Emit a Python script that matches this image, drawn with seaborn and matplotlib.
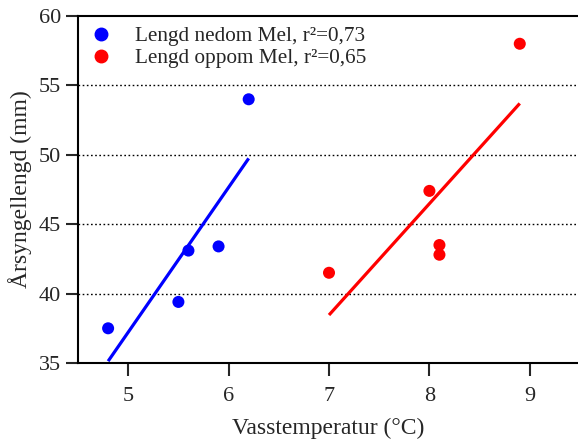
import matplotlib
matplotlib.use("Agg")
import matplotlib.pyplot as plt
import seaborn as sns
import pandas as pd
from matplotlib.lines import Line2D

# Data
temp_below = [4.8, 5.5, 5.6, 5.9, 6.2]
len_below = [37.5, 39.4, 43.1, 43.4, 54.0]
temp_above = [7.0, 8.0, 8.1, 8.1, 8.9]
len_above = [41.5, 47.4, 43.5, 42.8, 58.0]
labels = ["Lengd nedom Mel, r\u00b2=0,73", "Lengd oppom Mel, r\u00b2=0,65"]
colors = ["#0000ff", "#ff0000"]
xticks = [5, 6, 7, 8, 9]
yticks = [35, 40, 45, 50, 55, 60]

sns.set_style("ticks")
plt.rcParams['font.family'] = ['Liberation Serif', 'DejaVu Serif']

fig = plt.figure(figsize=(5.78, 4.43), dpi=100)
ax = fig.add_axes([78/578, 1 - 363/443, 1 - 78/578, (363 - 16)/443])

for y in [40, 45, 50, 55]:
    ax.axhline(y, color="black", linestyle=(0, (1.2, 1.8)), linewidth=1.0, zorder=0)

df_b = pd.DataFrame({"x": temp_below, "y": len_below})
df_a = pd.DataFrame({"x": temp_above, "y": len_above})

for df, c in [(df_b, colors[0]), (df_a, colors[1])]:
    sns.regplot(data=df, x="x", y="y", ax=ax, scatter=False, ci=None,
                truncate=True, color=c, line_kws={"linewidth": 2.3, "solid_capstyle": "butt"})
    sns.scatterplot(data=df, x="x", y="y", ax=ax, color=c, s=75, edgecolor="none", zorder=3)

ax.set_xlim(4.5, 9.48)
ax.set_ylim(35, 60)
ax.set_xticks(xticks)
ax.set_yticks(yticks)
ax.tick_params(axis="both", direction="out", length=9, width=1.5, labelsize=16, pad=3)
ax.tick_params(axis="x", pad=8)
for side in ["left", "bottom", "top"]:
    ax.spines[side].set_linewidth(1.5)
    ax.spines[side].set_color("black")
ax.spines["top"].set_visible(True)
ax.spines["right"].set_visible(False)

ax.set_xlabel("Vasstemperatur (\u00b0C)", fontsize=17, labelpad=9)
ax.set_ylabel("\u00c5rsyngellengd (mm)", fontsize=17, labelpad=5)

handles = [Line2D([], [], marker="o", linestyle="none", color=c, markersize=9) for c in colors]
ax.legend(handles, labels, loc="upper left", frameon=False, fontsize=15.3,
          handlelength=1.2, handletextpad=1.0, borderpad=0.5,
          borderaxespad=0.0, labelspacing=0.1,
          bbox_to_anchor=(0.0, 1.0))

fig.savefig("out.png", dpi=100)
